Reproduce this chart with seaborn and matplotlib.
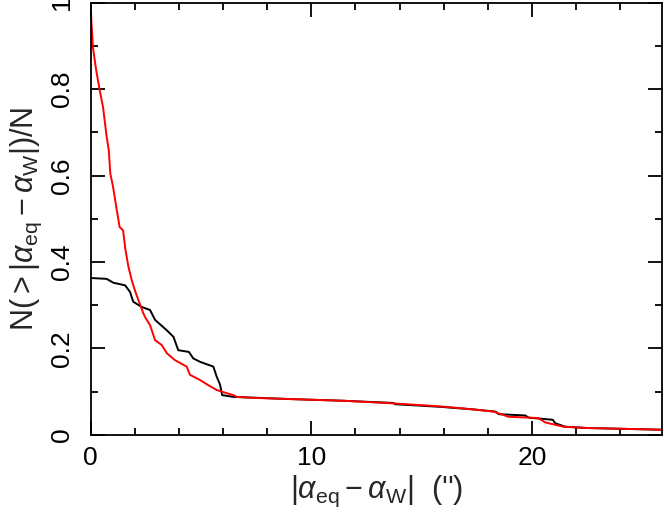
import matplotlib
matplotlib.use('Agg')
import matplotlib.pyplot as plt
from matplotlib.ticker import MultipleLocator
import seaborn as sns
import pandas as pd

# cumulative fractions N(>|a_eq - a_W|)/N
red_x = [0, 0.03, 0.1, 0.25, 0.41, 0.56, 0.71, 0.82, 0.89, 1.01, 1.16, 1.31, 1.47, 1.57, 1.71,
         1.86, 2.0, 2.16, 2.39, 2.46, 2.69, 2.92, 3.22, 3.45, 3.82, 4.35, 4.50, 4.96, 5.33, 5.71,
         6.01, 6.47, 6.62, 7.22, 9.0, 11.46, 13.72, 15.54, 16.3, 17.35, 18.26, 18.94, 20.3, 20.6,
         21.43, 22.5, 25.9]
red_y = [1.0, 0.958, 0.897, 0.843, 0.797, 0.758, 0.695, 0.658, 0.604, 0.575, 0.527, 0.481, 0.473,
         0.430, 0.389, 0.358, 0.335, 0.312, 0.281, 0.273, 0.254, 0.219, 0.208, 0.189, 0.173, 0.158,
         0.139, 0.127, 0.115, 0.104, 0.099, 0.092, 0.088, 0.086, 0.083, 0.079, 0.073, 0.067, 0.064,
         0.059, 0.054, 0.042, 0.039, 0.029, 0.019, 0.016, 0.012]

black_x = [0, 0.72, 1.03, 1.56, 1.78, 1.93, 2.31, 2.69, 2.92, 3.45, 3.75, 3.97, 4.45, 4.65, 4.96,
           5.56, 5.71, 5.86, 5.96, 6.47, 9.0, 11.46, 13.72, 13.8, 15.84, 17.35, 18.34, 18.5, 19.7,
           19.85, 20.95, 21.06, 21.51, 22.5, 25.9]
black_y = [0.363, 0.361, 0.352, 0.346, 0.331, 0.308, 0.296, 0.289, 0.266, 0.242, 0.227, 0.196,
           0.192, 0.177, 0.169, 0.158, 0.135, 0.117, 0.092, 0.088, 0.083, 0.079, 0.074, 0.071,
           0.065, 0.059, 0.054, 0.048, 0.045, 0.040, 0.035, 0.027, 0.019, 0.016, 0.012]

sns.set_style('ticks')
plt.rcParams['font.family'] = ['Liberation Sans', 'DejaVu Sans']
plt.rcParams['mathtext.fontset'] = 'custom'
plt.rcParams['mathtext.rm'] = 'Liberation Sans'
plt.rcParams['mathtext.it'] = 'Liberation Sans:italic'

black_df = pd.DataFrame({'x': black_x, 'y': black_y})
red_df = pd.DataFrame({'x': red_x, 'y': red_y})

fig, ax = plt.subplots(figsize=(6.64, 5.24), dpi=100)
fig.subplots_adjust(left=0.1366, right=0.997, bottom=0.170, top=0.995)

sns.lineplot(data=black_df, x='x', y='y', ax=ax, color='black', lw=1.4, sort=False, estimator=None)
sns.lineplot(data=red_df, x='x', y='y', ax=ax, color='red', lw=1.4, sort=False, estimator=None)

ax.set_xlim(0, 25.9)
ax.set_ylim(0, 1)
ax.xaxis.set_major_locator(MultipleLocator(10))
ax.xaxis.set_minor_locator(MultipleLocator(2))
ax.yaxis.set_major_locator(MultipleLocator(0.2))
ax.yaxis.set_minor_locator(MultipleLocator(0.1))
ax.set_yticks([0, 0.2, 0.4, 0.6, 0.8, 1.0])
ax.set_yticklabels(['0', '0.2', '0.4', '0.6', '0.8', '1'], rotation=90, va='center')

ax.tick_params(which='both', direction='in', top=True, right=True, width=1.3, color='black',
               labelsize=19, labelcolor='black')
ax.tick_params(which='major', length=10)
ax.tick_params(which='minor', length=5)
ax.tick_params(axis='x', pad=8)
ax.tick_params(axis='y', pad=12)
for s in ax.spines.values():
    s.set_linewidth(1.3)
    s.set_color('black')

ax.set_xlabel(r"$|\alpha_{\rm eq} - \alpha_{\rm W}|$  ('')", fontsize=22, labelpad=3)
ax.set_ylabel(r"N($>$$|\alpha_{\rm eq} - \alpha_{\rm W}|$)/N", fontsize=22, labelpad=4)

plt.savefig('out.png', dpi=100)
